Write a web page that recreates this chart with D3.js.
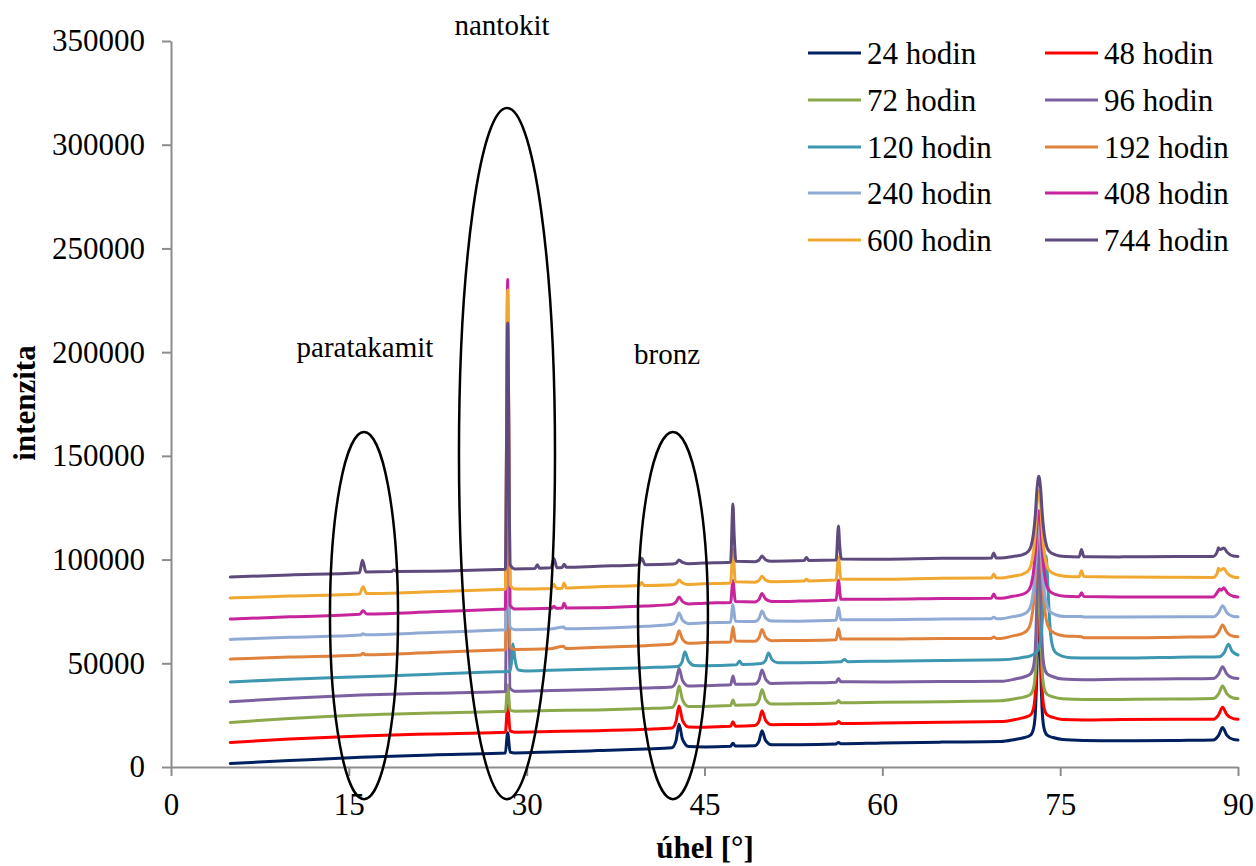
<!DOCTYPE html>
<html><head><meta charset="utf-8">
<script src="https://cdn.jsdelivr.net/npm/d3@7"></script>
<style>body{margin:0;background:#fff}</style>
</head><body>
<svg id="chart" width="1256" height="866"></svg>
<script>
// ---- data ----
const seriesNames = ["24 hodin","48 hodin","72 hodin","96 hodin","120 hodin","192 hodin","240 hodin","408 hodin","600 hodin","744 hodin"];
const xTicks = [0,15,30,45,60,75,90];
const yTicks = [0,50000,100000,150000,200000,250000,300000,350000];

const s24 = [[5,1700],[10,3100],[16,4700],[22,5800],[27.7,6600],[28.2,6700],[28.4,16500],[28.6,7200],[29,6800],[32,7200],[36,7900],[40,8700],
[42.25,9300],[42.6,12700],[42.85,20600],[43.15,13300],[43.65,9900],[45,9700],[47.2,10000],[47.4,11500],[47.6,10100],
[49.25,10300],[49.6,12500],[49.85,17500],[50.15,12800],[50.65,10700],[53,10700],[56.1,11100],[56.3,11800],[56.5,11200],[60,11600],[65,12000],[70,12300],
[71.2,13300],[72.0,14200],[72.5,15400],[72.75,18400],[72.9,25600],[73.0,39400],[73.1,60400],[73.2,72400],[73.3,60400],[73.4,39400],[73.5,25600],[73.65,18400],[73.9,15400],[74.4,14200],[75.2,13300],[77,12800],
[80,12600],[85,12800],[87.9,13000],[88.35,15100],[88.7,19000],[89.05,15400],[89.6,13300],[90,13000]];

const s48 = [[5,11800],[10,13500],[16,15000],[22,15900],[27.7,16600],[28.2,16700],[28.4,29900],[28.6,17400],[29,16800],[32,17100],[36,17500],[40,18200],
[42.25,18800],[42.6,22000],[42.85,29400],[43.15,22500],[43.65,19300],[45,19200],[47.2,19600],[47.4,21800],[47.6,19700],
[49.25,20000],[49.6,22100],[49.85,27100],[50.15,22500],[50.65,20400],[53,20500],[56.1,20900],[56.3,21900],[56.5,21000],[60,21200],[65,21600],[70,21900],
[71.2,22900],[72.0,23900],[72.5,25100],[72.75,28200],[72.9,35600],[73.0,49900],[73.1,71600],[73.2,84000],[73.3,71600],[73.4,49900],[73.5,35600],[73.65,28200],[73.9,25100],[74.4,23900],[75.2,22900],[77,22700],
[80,22900],[85,23000],[87.9,23000],[88.35,25000],[88.7,28800],[89.05,25300],[89.6,23300],[90,23000]];

const s72 = [[5,21500],[10,23400],[16,25100],[22,26000],[27.7,26700],[28.2,26800],[28.4,39500],[28.6,27500],[29,26900],[32,27200],[36,27500],[40,28200],
[42.25,28700],[42.6,31800],[42.85,39000],[43.15,32300],[43.65,29200],[45,29200],[47.2,29600],[47.4,32300],[47.6,29800],
[49.25,30000],[49.6,32200],[49.85,37400],[50.15,32600],[50.65,30400],[53,30500],[56.1,30900],[56.3,32100],[56.5,31000],[60,31200],[65,31500],[70,31900],
[71.2,32900],[72.0,33800],[72.5,35000],[72.75,38000],[72.9,45200],[73.0,59000],[73.1,80000],[73.2,92000],[73.3,80000],[73.4,59000],[73.5,45200],[73.65,38000],[73.9,35000],[74.4,33800],[75.2,32900],[77,32600],
[80,32600],[85,32800],[87.9,33000],[88.35,35100],[88.7,39000],[89.05,35400],[89.6,33300],[90,33000]];

const s96 = [[5,31500],[10,33200],[16,34700],[22,35600],[27.7,36300],[28.2,36400],[28.4,150000],[28.6,38000],[29,36500],[32,36900],[36,37400],[40,38100],
[42.25,38600],[42.6,41300],[42.85,47500],[43.15,41700],[43.65,39000],[45,39200],[47.2,39600],[47.4,43900],[47.6,39900],
[49.25,40000],[49.6,42000],[49.85,46800],[50.15,42400],[50.65,40300],[53,40500],[56.1,40900],[56.3,42700],[56.5,41100],[60,41000],[65,41200],[70,41300],
[71.2,42400],[72.0,43500],[72.5,44900],[72.75,48400],[72.9,56800],[73.0,72900],[73.1,97400],[73.2,111400],[73.3,97400],[73.4,72900],[73.5,56800],[73.65,48400],[73.9,44900],[74.4,43500],[75.2,42400],[77,42100],
[80,42300],[85,42500],[87.9,42700],[88.35,44700],[88.7,48300],[89.05,44900],[89.6,42900],[90,42700]];

const s120 = [[5,41000],[10,42300],[16,43500],[22,44700],[27.7,45900],[28.4,46000],[28.6,46100],[28.75,52000],[28.85,59300],[29.0,52500],[29.3,46800],[30,46300],
[32,46600],[36,47200],[40,47900],[42.75,48500],[43.1,50600],[43.35,55600],[43.65,51000],[44.15,48900],[45,48800],[47.7,49300],[47.95,51100],[48.2,49400],
[49.8,49900],[50.15,51400],[50.4,55000],[50.7,51700],[51.2,50200],[53,50200],[56.5,50700],[56.8,51800],[57.1,50800],[60,51000],[65,51400],[70,51700],
[71.7,52700],[72.5,53600],[73.0,55300],[73.25,58300],[73.42,64800],[73.55,76800],[73.68,92800],[73.8,101800],[73.92,92800],[74.05,76800],[74.18,64800],[74.35,58300],[74.6,55300],[75.1,53600],[75.9,52700],[77.5,52500],
[80,52500],[85,52900],[88.4,53200],[88.85,55300],[89.2,59200],[89.5,55800],[90,54000]];

const s192 = [[5,52000],[10,53000],[16.0,54000],[16.2,54800],[16.4,54100],[22,55200],[27.7,56400],[28.2,56500],[28.4,155000],[28.6,58000],[29,56600],[32,57000],[33.1,58200],[33.3,57100],[36,57700],[40,58500],
[42.25,59300],[42.6,61200],[42.85,65700],[43.15,61500],[43.65,59600],[45,60000],[47.2,60300],[47.4,67600],[47.6,60700],
[49.25,60600],[49.6,62300],[49.85,66300],[50.15,62600],[50.65,60900],[53,61000],[56.1,61400],[56.3,66800],[56.5,61700],[60,61700],[65,62000],[69.2,62000],[69.4,62700],[69.6,62000],[70,62000],
[71.0,63200],[71.8,64300],[72.3,66500],[72.55,70400],[72.75,78600],[72.9,90700],[73.05,108900],[73.2,117100],[73.35,108900],[73.5,90700],[73.65,78600],[73.85,70400],[74.1,66500],[74.6,64300],[75.4,63200],[76.8,62800],[77.0,62300],
[80,62300],[85,62600],[87.9,62800],[88.35,64800],[88.7,68400],[89.05,65000],[89.6,63000],[90,62800]];

const s240 = [[5,61500],[10,62500],[16.0,63600],[16.2,64200],[16.4,63700],[22,64800],[27.7,66000],[28.2,66100],[28.4,120000],[28.6,67500],[29,66200],[32,66500],[33.1,67500],[33.3,66600],[36,66900],[40,67800],
[42.25,68800],[42.6,70400],[42.85,74300],[43.15,70700],[43.65,69100],[45,69500],[47.2,69800],[47.4,78300],[47.6,70300],
[49.25,70100],[49.6,71600],[49.85,75200],[50.15,71900],[50.65,70400],[53,70300],[56.1,70700],[56.3,76900],[56.5,71000],[60,71000],[65,71400],[69.2,71500],[69.4,72200],[69.6,71500],[70,71500],
[71.0,72500],[71.8,73400],[72.3,75200],[72.55,78400],[72.75,85100],[72.9,95000],[73.05,109900],[73.2,116600],[73.35,109900],[73.5,95000],[73.65,85100],[73.85,78400],[74.1,75200],[74.6,73400],[75.4,72500],[76.8,72500],[77.0,72300],
[80,72300],[85,72400],[87.9,72400],[88.35,74300],[88.7,77700],[89.05,74500],[89.6,72600],[90,72400]];

const s408 = [[5,71300],[10,72400],[15.9,73600],[16.2,75300],[16.5,73800],[22,74800],[27.7,76000],[28.2,76100],[28.4,235000],[28.6,78000],[29,76200],[32.1,76500],[32.3,77500],[32.5,76500],[33.0,76600],[33.15,79000],[33.35,76700],[36,76800],[40,77600],
[42.25,78400],[42.6,79500],[42.85,82000],[43.15,79700],[43.65,78600],[45,79000],[47.2,79300],[47.4,89900],[47.6,79800],
[49.25,79600],[49.6,80800],[49.85,83600],[50.15,81000],[50.65,79800],[53,80000],[56.1,80500],[56.3,90000],[56.5,80900],[60,80900],[65,81200],[69.2,81400],[69.4,83400],[69.6,81500],[70,81400],
[71.0,82300],[71.8,83200],[72.3,84900],[72.55,87800],[72.75,94100],[72.9,103300],[73.05,117200],[73.2,123500],[73.35,117200],[73.5,103300],[73.65,94100],[73.85,87800],[74.1,84900],[74.6,83200],[75.4,82300],[76.6,82100],[76.8,84000],[77.0,82200],
[80,82000],[85,82000],[87.9,82000],[88.3,84600],[88.45,85800],[88.6,85200],[88.8,86400],[89.1,84000],[89.6,82300],[90,82000]];

const s600 = [[5,81500],[10,82400],[15.9,83400],[16.2,86900],[16.5,83600],[22,84500],[27.7,85600],[28.2,85700],[28.4,230000],[28.6,87800],[29,85800],[32.1,86100],[32.3,88100],[32.5,86100],[33.0,86200],[33.15,88700],[33.35,86300],[36,86900],[39.5,87500],[39.7,89000],[39.9,87500],
[42.35,87900],[42.65,88600],[42.85,90100],[43.15,88700],[43.6,88000],[45,88300],[47.2,88700],[47.4,105000],[47.6,89300],
[49.25,89100],[49.6,90000],[49.85,92000],[50.15,90100],[50.65,89300],[53.4,89700],[53.6,90500],[53.8,89700],[56.1,90100],[56.3,101300],[56.5,90600],[60,90500],[65,91000],[69.2,91100],[69.4,93100],[69.6,91200],[70,91100],
[71.0,92000],[71.8,92900],[72.3,94600],[72.55,97500],[72.75,103800],[72.9,113000],[73.05,126900],[73.2,133200],[73.35,126900],[73.5,113000],[73.65,103800],[73.85,97500],[74.1,94600],[74.6,92900],[75.4,92000],[76.6,91700],[76.8,94600],[77.0,91800],
[80,91600],[85,91500],[87.9,91400],[88.25,93500],[88.35,95800],[88.5,94800],[88.8,95700],[89.1,93400],[89.6,91600],[90,91300]];

const s744 = [[5,91600],[10,92600],[15.9,93700],[16.15,99700],[16.45,94000],[18.6,94200],[18.8,95000],[19.0,94300],[22,94400],[27.7,95200],[28.2,95300],[28.4,214000],[28.6,97500],[29,95500],[30.7,95700],[30.9,97500],[31.1,95800],[32.05,96000],[32.3,100500],[32.55,96100],[33.0,96200],[33.15,97700],[33.35,96300],[36,96800],[39.4,97400],[39.7,100600],[40.0,97500],
[42.35,97900],[42.65,98500],[42.85,99800],[43.15,98600],[43.6,98000],[45,98300],[47.2,98700],[47.4,126800],[47.5,112000],[47.65,99200],
[49.25,99000],[49.6,99800],[49.85,101700],[50.15,99900],[50.65,99200],[53.4,99500],[53.6,101000],[53.8,99600],[56.1,99800],[56.3,116200],[56.4,107000],[56.55,100300],[60,100200],[65,100600],[69.2,100700],[69.4,103200],[69.6,100800],[70,100700],
[71.0,101500],[71.8,102300],[72.3,103900],[72.55,106600],[72.75,112600],[72.9,121200],[73.05,134300],[73.2,140200],[73.35,134300],[73.5,121200],[73.65,112600],[73.85,106600],[74.1,103900],[74.6,102300],[75.4,101500],[76.6,101300],[76.8,104800],[77.0,101400],
[80,101300],[85,101500],[87.9,101500],[88.25,103800],[88.35,105700],[88.5,104800],[88.8,105600],[89.1,103400],[89.6,101700],[90,101500]];

const seriesData = [s24,s48,s72,s96,s120,s192,s240,s408,s600,s744];

// annotation regions (in data units)
const annotations = [
  {label:"paratakamit", cx:16.28, cy:73000, rx:2.87, ry:88500, lx:16.36, ly:197700},
  {label:"nantokit",    cx:28.34, cy:151100, rx:4.05, ry:166600, lx:27.92, ly:352900},
  {label:"bronz",       cx:42.34, cy:73000, rx:2.95, ry:88500, lx:41.84, ly:194300}
];

// ---- styles ----
const colors = ["#002060","#FF0000","#8BA84B","#7B5FA0","#3D97B0","#E0823C","#8FAAD4","#C8259C","#F0A830","#5F4A7E"];
const FONT = "'Liberation Serif','Times New Roman',serif";
const axisColor = "#8c8c8c";

const svg = d3.select("#chart");
const x = d3.scaleLinear().domain([0,90]).range([171,1238]);
const y = d3.scaleLinear().domain([0,350000]).range([767,41]);

// axes
const gx = svg.append("g").attr("transform","translate(0,767)")
  .call(d3.axisBottom(x).tickValues(xTicks).tickSize(9).tickSizeOuter(0).tickPadding(17).tickFormat(d3.format("d")));
const gy = svg.append("g").attr("transform","translate(171,0)")
  .call(d3.axisLeft(y).tickValues(yTicks).tickSize(9).tickSizeOuter(0).tickPadding(17).tickFormat(d3.format("d")));
[gx,gy].forEach(g=>{
  g.selectAll("path.domain").attr("stroke",axisColor).attr("stroke-width",2);
  g.selectAll(".tick line").attr("stroke",axisColor).attr("stroke-width",2);
  g.selectAll(".tick text").attr("fill","#000").style("font-family",FONT).style("font-size","31px");
});

// lines
const line = d3.line().x(d=>x(d[0])).y(d=>y(d[1])).curve(d3.curveMonotoneX);
svg.append("g").selectAll("path").data(seriesData).join("path")
  .attr("d",line).attr("fill","none")
  .attr("stroke",(d,i)=>colors[i]).attr("stroke-width",3)
  .attr("stroke-linejoin","round").attr("stroke-linecap","round");

// annotations
const ag = svg.append("g");
annotations.forEach(a=>{
  ag.append("ellipse")
    .attr("cx",x(a.cx)).attr("cy",y(a.cy))
    .attr("rx",x(a.cx+a.rx)-x(a.cx)).attr("ry",y(0)-y(a.ry))
    .attr("fill","none").attr("stroke","#000").attr("stroke-width",2.5);
  ag.append("text").attr("x",x(a.lx)).attr("y",y(a.ly))
    .attr("text-anchor","middle").style("font-family",FONT).style("font-size","29px")
    .text(a.label);
});

// axis titles
svg.append("text").attr("transform","translate(35,403) rotate(-90)")
  .attr("text-anchor","middle").style("font-family",FONT).style("font-size","31px").style("font-weight","bold")
  .text("intenzita");
svg.append("text").attr("x",705).attr("y",858)
  .attr("text-anchor","middle").style("font-family",FONT).style("font-size","31px").style("font-weight","bold")
  .text("úhel [°]");

// legend
const legendRows = [53,100,147,193,240];
const legendCols = [808,1045];
const lg = svg.append("g");
seriesNames.forEach((name,i)=>{
  const cx = legendCols[i%2], cy = legendRows[Math.floor(i/2)];
  lg.append("line").attr("x1",cx).attr("x2",cx+53).attr("y1",cy).attr("y2",cy)
    .attr("stroke",colors[i]).attr("stroke-width",3);
  lg.append("text").attr("x",cx+59).attr("y",cy).attr("dy","0.35em")
    .style("font-family",FONT).style("font-size","31px").text(name);
});
</script>
</body></html>
